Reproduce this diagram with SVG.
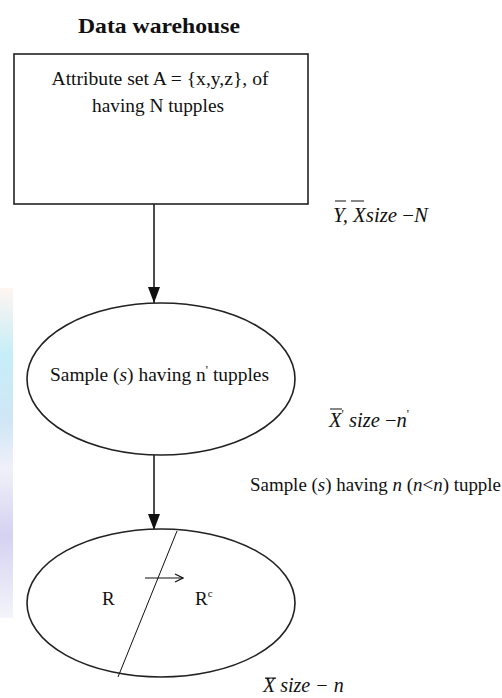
<svg xmlns="http://www.w3.org/2000/svg" width="502" height="698" viewBox="0 0 502 698" font-family="'Liberation Serif', 'DejaVu Serif', 'Times New Roman', serif">
<style>
text{font-family:"Liberation Serif","DejaVu Serif","Times New Roman",serif;fill:#111;}
.t{font-size:19px;}
.m{font-size:20px;font-style:italic;}
.line{stroke:#111;stroke-width:1.5;fill:none;}
.shape{stroke:#222;stroke-width:1.6;fill:#fff;}
.ov{stroke:#111;stroke-width:1;}
</style>
<defs>
<marker id="ah" markerWidth="16" markerHeight="12" refX="16" refY="6" orient="auto" markerUnits="userSpaceOnUse" viewBox="0 0 16 12">
<path d="M0,0 L16,6 L0,12 Z" fill="#111"/>
</marker>
<marker id="open" markerWidth="10" markerHeight="10" refX="9" refY="5" orient="auto" markerUnits="userSpaceOnUse" viewBox="0 0 10 10">
<path d="M1,1 L9,5 L1,9" fill="none" stroke="#111" stroke-width="1.2"/>
</marker>
<linearGradient id="wm" x1="0" y1="0" x2="0" y2="1">
<stop offset="0" stop-color="#fff5f0"/>
<stop offset="0.2" stop-color="#c6eef8"/>
<stop offset="0.4" stop-color="#cfe6f5"/>
<stop offset="0.55" stop-color="#f0f0fa"/>
<stop offset="0.75" stop-color="#d4d2f0"/>
<stop offset="1" stop-color="#f4f4fb"/>
</linearGradient>
</defs>
<rect x="0" y="0" width="502" height="698" fill="#fff"/>
<rect x="0" y="288" width="13" height="330" fill="url(#wm)"/>

<text x="159" y="33" font-size="21" font-weight="bold" text-anchor="middle" textLength="162" lengthAdjust="spacingAndGlyphs">Data warehouse</text>

<g id="connectors">
<line class="line" x1="154" y1="204" x2="154" y2="303" marker-end="url(#ah)"/>
<line class="line" x1="154" y1="455" x2="154" y2="530" marker-end="url(#ah)"/>
</g>

<g id="warehouse">
<rect class="shape" x="14" y="54" width="294" height="150"/>
<text class="t" x="160" y="85" text-anchor="middle" textLength="217" lengthAdjust="spacingAndGlyphs">Attribute set A = {x,y,z}, of</text>
<text class="t" x="158" y="112" text-anchor="middle" textLength="132" lengthAdjust="spacingAndGlyphs">having N tupples</text>
</g>

<g id="label-yx">
<text class="m" x="333" y="222" font-size="23" textLength="95" lengthAdjust="spacingAndGlyphs">Y, Xsize <tspan font-style="normal">−</tspan>N</text>
<line class="ov" x1="335" y1="201" x2="346" y2="201"/>
<line class="ov" x1="351" y1="201" x2="364" y2="201"/>
</g>

<g id="sample1">
<ellipse class="shape" cx="161" cy="379" rx="134" ry="76"/>
<text class="t" x="50" y="381" textLength="219" lengthAdjust="spacingAndGlyphs">Sample (<tspan font-style="italic">s</tspan>) having n<tspan dy="-7" font-size="12">'</tspan><tspan dy="7"> tupples</tspan></text>
</g>

<g id="label-x1">
<text class="m" x="329" y="427" textLength="80" lengthAdjust="spacingAndGlyphs">X<tspan dy="-9" font-size="12" font-style="normal">'</tspan><tspan dy="9"> size </tspan><tspan font-style="normal">−</tspan>n<tspan dy="-9" font-size="12" font-style="normal">'</tspan></text>
<line class="ov" x1="330" y1="409" x2="342" y2="409"/>
</g>

<g id="label-sample2">
<text class="t" x="250" y="491" textLength="251" lengthAdjust="spacingAndGlyphs">Sample (<tspan font-style="italic">s</tspan>) having <tspan font-style="italic">n</tspan> (<tspan font-style="italic">n</tspan>&lt;<tspan font-style="italic">n</tspan>) tupple</text>
</g>

<g id="sample2">
<ellipse class="shape" cx="161" cy="603" rx="134" ry="74"/>
<line x1="177" y1="531" x2="118" y2="677" stroke="#111" stroke-width="1"/>
<line x1="145" y1="578" x2="183" y2="578" stroke="#111" stroke-width="1.2" marker-end="url(#open)"/>
<text class="t" x="102" y="605">R</text>
<text class="t" x="195" y="605">R<tspan dy="-8" font-size="11">c</tspan></text>
</g>

<g id="label-x2">
<text class="m" x="263" y="692">X size − n</text>
<line class="ov" x1="265" y1="678" x2="276" y2="678"/>
</g>
</svg>
